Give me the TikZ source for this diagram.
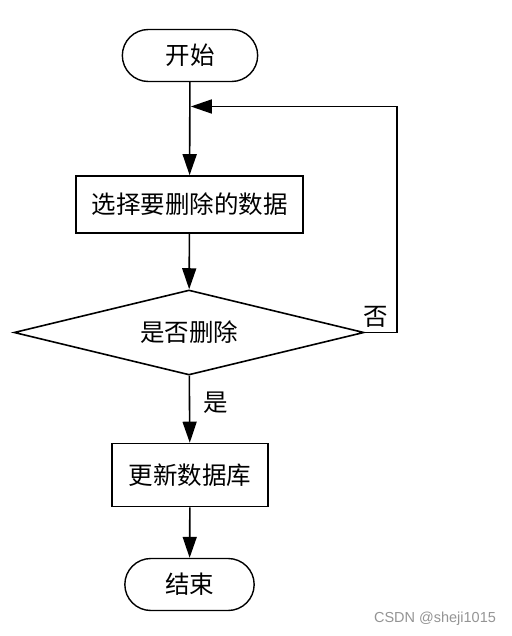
\documentclass[tikz,border=0pt]{standalone}
\usepackage{fontspec}
\setmainfont{Noto Sans CJK SC}
\newfontfamily\markfont{Liberation Sans}
\usetikzlibrary{shapes.misc,shapes.geometric,arrows.meta}

\begin{document}
\begin{tikzpicture}[x=1pt,y=-1pt,
    every node/.style={font=\fontsize{24.5}{24.5}\selectfont},
    term/.style={rounded rectangle,draw,line width=1.4pt,minimum width=142pt,minimum height=52pt},
    proc/.style={rectangle,draw,line width=1.6pt,minimum height=57pt},
    decide/.style={diamond,draw,line width=1.6pt,aspect=4,inner sep=1pt,minimum width=350pt,minimum height=85pt},
    flow/.style={-{Triangle[length=21pt,width=14pt]},line width=1.6pt}]
    \useasboundingbox (0,0) rectangle (511,636);
    % Nodes
    \node[term] (start) at (190,55.5) {开始};
    \node[proc,minimum width=227pt] (select) at (189.5,204.5) {选择要删除的数据};
    \node[decide] (check) at (189,332.5) {是否删除};
    \node[proc,minimum width=156pt,minimum height=63pt] (update) at (190,475) {更新数据库};
    \node[term,minimum width=136pt] (stop) at (189.5,584.5) {结束};
    \coordinate (corner) at (397,106.5);
    \coordinate (join) at (190.8,106.5);
    % Edges
    \draw[flow] (start) -- (select);
    \draw[flow] (select) -- (check);
    \draw[flow] (check) -- (update);
    \draw[flow] (update) -- (stop);
    \draw[flow] (check.east) -| (corner) -- (join);
    \node (yes) at (216,403) {是};
    \node (no) at (376,317) {否};
    % Watermark
    \node[font=\markfont\fontsize{14.5}{14.5}\selectfont,text=black!42] (mark) at (435,619) {CSDN @sheji1015};
\end{tikzpicture}
\end{document}
